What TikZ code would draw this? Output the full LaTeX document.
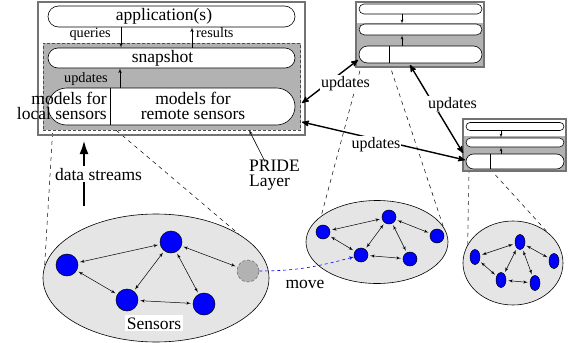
\documentclass[tikz,border=0pt]{standalone}
\usepackage{fontspec}
\setmainfont{Liberation Serif}
\usetikzlibrary{arrows,arrows.meta}
\usetikzlibrary{calc, shapes.misc, shapes.geometric}

\begin{document}
\begin{tikzpicture}[x=1pt,y=-1pt,font=\fontsize{17.5}{15}\selectfont]
      \tikzset{row/.style = {shape=rounded rectangle,draw,fill=white,inner sep=0pt,line width=0.6pt}}
      \tikzset{frame/.style = {shape=rectangle,draw=black!55,line width=1.4pt,inner sep=0pt}}
      \tikzset{layer/.style = {shape=rectangle,fill=black!30,inner sep=0pt}}
      \tikzset{flow/.style = {->,> = latex',line width=0.6pt}}
      \tikzset{tiny/.style = {->,> = latex',line width=0.4pt}}
      \tikzset{edge/.style = {<->,> = latex',line width=0.5pt,shorten <=2pt,shorten >=2pt}}
      \tikzset{upd/.style = {<->,> = stealth',line width=1.4pt}}
      \tikzset{cone/.style = {dash pattern=on 4pt off 4pt,line width=0.5pt}}
      \tikzset{cloud/.style = {shape=ellipse,draw,fill=black!10,line width=0.6pt}}
      \tikzset{vertex/.style = {shape=circle,draw,fill=blue,inner sep=0pt,line width=0.5pt}}
      \tikzset{dot/.style = {shape=ellipse,draw,fill=blue,inner sep=0pt,line width=0.5pt,minimum width=10pt,minimum height=15pt}}
      \tikzset{small/.style = {font=\fontsize{14.3}{15}\selectfont,inner sep=0pt}}
      \tikzset{lbl/.style = {font=\fontsize{16}{16}\selectfont,fill=white,inner sep=1pt,anchor=base}}
      \useasboundingbox (0,0) rectangle (574,343);

      \coordinate (m1) at (53,125);
      \coordinate (m2) at (110,125);
      \coordinate (s1) at (362,63);
      \coordinate (s2) at (389,63);
      \coordinate (t1) at (469,169);
      \coordinate (t2) at (490,169);
      \node[cloud,minimum width=226pt,minimum height=128pt] (net1) at (156,278) {};
      \node[cloud,minimum width=142pt,minimum height=83pt] (net2) at (377,242) {};
      \node[cloud,minimum width=100pt,minimum height=84pt] (net3) at (513,263) {};
      \draw[cone] (m1) -- (net1.174);
      \draw[cone] (m2) -- (net1.28);
      \draw[cone] (s1) -- (net2.155);
      \draw[cone] (s2) -- (net2.13);
      \draw[cone,draw=black!60,line width=0.8pt] (t1) -- (net3.158);
      \draw[cone] (t2) -- (net3.42);

      \node[frame,minimum width=267pt,minimum height=133pt] (pride) at (171.5,68.5) {};
      \node[layer,draw=black!70,dash pattern=on 3pt off 2pt,line width=0.6pt,minimum width=257.7pt,minimum height=87pt] (core) at (171.85,86.5) {};
      \node[row,minimum width=247pt,minimum height=21pt] (app) at (171.5,16.5) {\hspace*{-15pt}application(s)};
      \node[row,minimum width=247pt,minimum height=20pt] (snap) at (171.5,58) {\hspace*{-18pt}snapshot};
      \node[row,minimum width=247pt,minimum height=37pt] (mod) at (171.5,106.5) {};
      \draw[line width=0.6pt] ([xshift=-61.5pt]mod.north) -- ([xshift=-61.5pt]mod.south);
      \node[align=right,anchor=east,inner sep=0pt] (loc) at (107,106) {models for\\local sensors};
      \node[align=center,inner sep=0pt] (rem) at (193,106) {models for\\remote sensors};
      \draw[flow] ([xshift=-50.5pt]app.south) -- ([xshift=-50.5pt]snap.north);
      \draw[flow] ([xshift=20.5pt]snap.north) -- ([xshift=20.5pt]app.south);
      \draw[flow] ([xshift=-51.5pt]mod.north) -- ([xshift=-51.5pt]snap.south);
      \node[small,anchor=base east] (qry) at (111,37) {queries};
      \node[small,anchor=base west] (res) at (196,37) {results};
      \node[small,anchor=base east] (upd) at (108,82) {updates};

      \node[layer,minimum width=128pt,minimum height=44pt] (gray1) at (420,45) {};
      \node[frame,minimum width=128pt,minimum height=65pt] (box1) at (420,34.5) {};
      \node[row,minimum width=123pt,minimum height=10pt] (r11) at (420.5,9) {};
      \node[row,minimum width=123pt,minimum height=11pt] (r12) at (420.5,29.5) {};
      \node[row,minimum width=123pt,minimum height=17pt] (r13) at (420.5,54.5) {};
      \draw[line width=0.6pt] ([xshift=-31.5pt]r13.north) -- ([xshift=-31.5pt]r13.south);
      \draw[tiny] ([xshift=-18.5pt]r11.south) -- ([xshift=-18.5pt]r12.north);
      \draw[tiny] ([xshift=-18.5pt]r13.north) -- ([xshift=-18.5pt]r12.south);

      \node[layer,minimum width=103pt,minimum height=35pt] (gray2) at (514.5,153.5) {};
      \node[frame,minimum width=103pt,minimum height=52pt] (box2) at (514.5,145) {};
      \node[row,minimum width=98pt,minimum height=8pt] (r21) at (515,126.5) {};
      \node[row,minimum width=98pt,minimum height=9pt] (r22) at (515,142.5) {};
      \node[row,minimum width=98pt,minimum height=15pt] (r23) at (515,161.5) {};
      \draw[line width=0.6pt] ([xshift=-25pt]r23.north) -- ([xshift=-25pt]r23.south);
      \draw[tiny] ([xshift=-14pt]r21.south) -- ([xshift=-14pt]r22.north);
      \draw[tiny] ([xshift=-14pt]r23.north) -- ([xshift=-14pt]r22.south);

      \coordinate (p1) at (302,103);
      \coordinate (q1) at (358,60);
      \coordinate (p2) at (410,65);
      \coordinate (q2) at (463,153);
      \coordinate (p3) at (302,122);
      \coordinate (q3) at (465,160);
      \draw[upd] (p1) -- (q1);
      \draw[upd] (p2) -- (q2);
      \draw[upd] (p3) -- (q3);
      \node[lbl] (u1) at (345.5,87) {updates};
      \node[lbl] (u2) at (452.5,108) {updates};
      \node[lbl] (u3) at (376,148) {updates};

      \coordinate (pt) at (249,130);
      \node[anchor=west,align=left,inner sep=0pt] (pl) at (249,175) {PRIDE\\Layer};
      \draw[flow] ([xshift=16pt,yshift=-2pt]pl.north west) -- (pt);

      \coordinate (ds0) at (84,206);
      \coordinate (ds1) at (84,140);
      \draw[line width=2.6pt,-{Latex[length=14pt,width=9pt]}] (ds0) -- (ds1);
      \node[fill=white,inner sep=1.5pt,anchor=base] (ds) at (98.5,180) {data streams};

      \node[vertex,minimum size=22pt] (a1) at (67,265) {};
      \node[vertex,minimum size=22pt] (b1) at (171,242) {};
      \node[vertex,minimum size=22pt] (c1) at (127,300) {};
      \node[vertex,minimum size=22pt] (d1) at (204,304) {};
      \node[vertex,minimum size=22pt,fill=black!30,draw=black!60,densely dashed] (e1) at (248,271) {};
      \draw[edge] (a1) to (b1);
      \draw[edge] (a1) to (c1);
      \draw[edge] (b1) to (c1);
      \draw[edge] (b1) to (d1);
      \draw[edge] (c1) to (d1);
      \draw[edge] (b1) to (e1);
      \node[fill=white,inner sep=2pt,anchor=base] (sens) at (154,329) {Sensors};

      \node[vertex,minimum size=14pt] (a2) at (323,232) {};
      \node[vertex,minimum size=14pt] (b2) at (389,217) {};
      \node[vertex,minimum size=14pt] (c2) at (361,255) {};
      \node[vertex,minimum size=14pt] (d2) at (410,259) {};
      \node[vertex,minimum size=14pt] (e2) at (437,236) {};
      \draw[edge] (a2) to (b2);
      \draw[edge] (a2) to (c2);
      \draw[edge] (b2) to (c2);
      \draw[edge] (b2) to (d2);
      \draw[edge] (c2) to (d2);
      \draw[edge] (b2) to (e2);

      \node[dot] (a3) at (475,257) {};
      \node[dot] (b3) at (520,242) {};
      \node[dot] (c3) at (501,280) {};
      \node[dot] (d3) at (535,283) {};
      \node[dot] (e3) at (554,261) {};
      \draw[edge] (a3) to (b3);
      \draw[edge] (a3) to (c3);
      \draw[edge] (b3) to (c3);
      \draw[edge] (b3) to (d3);
      \draw[edge] (c3) to (d3);
      \draw[edge] (b3) to (e3);

      \draw[blue,dashed,line width=0.6pt,->,> = latex'] (e1) to[out=0,in=195] (c2);
      \node[anchor=base,inner sep=0pt] (mv) at (305,288) {move};
\end{tikzpicture}
\end{document}
